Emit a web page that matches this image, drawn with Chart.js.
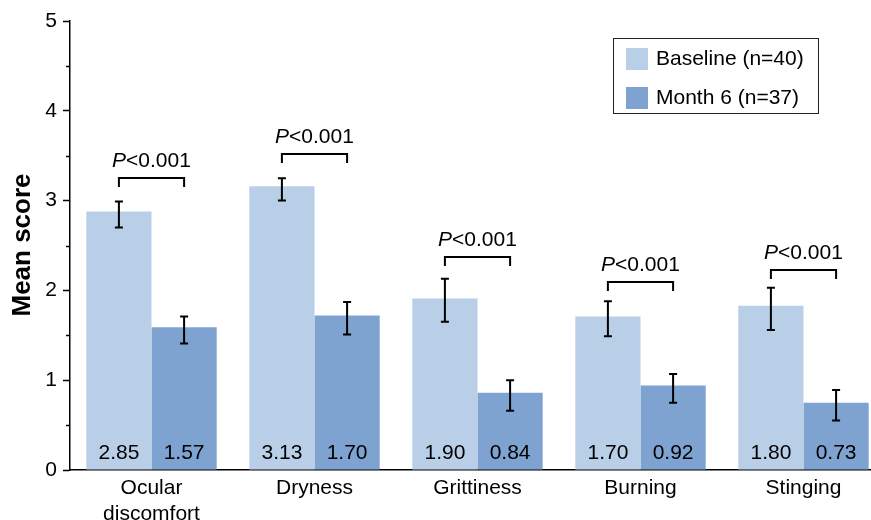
<!DOCTYPE html>
<html>
<head>
<meta charset="utf-8">
<script src="https://cdn.jsdelivr.net/npm/chart.js@4.4.1/dist/chart.umd.min.js"></script>
<style>
  html, body { margin: 0; padding: 0; background: #fff; overflow: hidden; }
  #wrap { width: 885px; height: 520px; }
</style>
</head>
<body>
<div id="wrap"><canvas id="chart" width="885" height="520"></canvas></div>
<script>
const FONT = "'Liberation Sans', Arial, sans-serif";

const categories = [['Ocular', 'discomfort'], 'Dryness', 'Grittiness', 'Burning', 'Stinging'];
const seriesNames = ['Baseline (n=40)', 'Month 6 (n=37)'];

// bar heights as drawn, and the printed means
const baselineMeans = [2.88, 3.16, 1.91, 1.71, 1.83];
const month6Means = [1.59, 1.72, 0.86, 0.94, 0.75];
const baselineLabels = ['2.85', '3.13', '1.90', '1.70', '1.80'];
const month6Labels = ['1.57', '1.70', '0.84', '0.92', '0.73'];

// error bar ends
const baselineErrLow = [2.70, 3.00, 1.65, 1.49, 1.56];
const baselineErrHigh = [2.99, 3.25, 2.13, 1.88, 2.03];
const month6ErrLow = [1.41, 1.51, 0.66, 0.75, 0.55];
const month6ErrHigh = [1.71, 1.87, 1.00, 1.07, 0.89];

// significance brackets
const bracketLevels = [3.25, 3.52, 2.37, 2.09, 2.23];
const pValues = ['<0.001', '<0.001', '<0.001', '<0.001', '<0.001'];

const yTicks = [0, 1, 2, 3, 4, 5];
const yMinorTicks = [0.5, 1.5, 2.5, 3.5, 4.5];

const colors = ['#B9CFE8', '#7EA3D1'];

const overlay = {
  id: 'overlay',
  afterDatasetsDraw(chart) {
    const ctx = chart.ctx;
    const y = chart.scales.y;
    const area = chart.chartArea;
    const m0 = chart.getDatasetMeta(0).data;
    const m1 = chart.getDatasetMeta(1).data;
    ctx.save();

    // minor ticks
    ctx.strokeStyle = '#000';
    ctx.lineWidth = 1.5;
    yMinorTicks.forEach((v) => {
      const py = Math.round(y.getPixelForValue(v)) + 0.5;
      ctx.beginPath();
      ctx.moveTo(area.left - 4, py);
      ctx.lineTo(area.left, py);
      ctx.stroke();
    });

    // error bars
    ctx.lineWidth = 2;
    const errBar = (x, lo, hi) => {
      const p1 = y.getPixelForValue(lo);
      const p2 = y.getPixelForValue(hi);
      ctx.beginPath();
      ctx.moveTo(x, p1); ctx.lineTo(x, p2);
      ctx.moveTo(x - 4, p1); ctx.lineTo(x + 4, p1);
      ctx.moveTo(x - 4, p2); ctx.lineTo(x + 4, p2);
      ctx.stroke();
    };
    categories.forEach((c, i) => {
      errBar(m0[i].x, baselineErrLow[i], baselineErrHigh[i]);
      errBar(m1[i].x, month6ErrLow[i], month6ErrHigh[i]);
    });

    // value labels inside bars
    ctx.fillStyle = '#000';
    ctx.font = `21px ${FONT}`;
    ctx.textAlign = 'center';
    ctx.textBaseline = 'middle';
    categories.forEach((c, i) => {
      ctx.fillText(baselineLabels[i], m0[i].x, 453);
      ctx.fillText(month6Labels[i], m1[i].x, 453);
    });

    // brackets with P values
    ctx.lineWidth = 2;
    categories.forEach((c, i) => {
      const by = Math.round(y.getPixelForValue(bracketLevels[i]));
      const x1 = m0[i].x, x2 = m1[i].x;
      ctx.beginPath();
      ctx.moveTo(x1, by + 9); ctx.lineTo(x1, by); ctx.lineTo(x2, by); ctx.lineTo(x2, by + 9);
      ctx.stroke();
      ctx.font = `italic 21px ${FONT}`;
      const wP = ctx.measureText('P').width;
      ctx.font = `21px ${FONT}`;
      const wRest = ctx.measureText(pValues[i]).width;
      const start = (x1 + x2) / 2 - (wP + wRest) / 2;
      ctx.textAlign = 'left';
      ctx.textBaseline = 'alphabetic';
      ctx.font = `italic 21px ${FONT}`;
      ctx.fillText('P', start, by - 11);
      ctx.font = `21px ${FONT}`;
      ctx.fillText(pValues[i], start + wP, by - 11);
    });

    // y title
    ctx.save();
    ctx.translate(23, 245);
    ctx.rotate(-Math.PI / 2);
    ctx.font = `bold 26px ${FONT}`;
    ctx.textAlign = 'center';
    ctx.textBaseline = 'middle';
    ctx.fillText('Mean score', 0, 0);
    ctx.restore();

    // legend
    ctx.lineWidth = 1;
    ctx.strokeStyle = '#222';
    ctx.strokeRect(613.5, 38.5, 205, 75);
    ctx.font = `21px ${FONT}`;
    ctx.textAlign = 'left';
    ctx.textBaseline = 'middle';
    [48, 87].forEach((ty, k) => {
      ctx.fillStyle = colors[k];
      ctx.fillRect(626, ty, 22, 22);
      ctx.fillStyle = '#000';
      ctx.fillText(seriesNames[k], 656, ty + 11);
    });

    ctx.restore();
  }
};

new Chart(document.getElementById('chart'), {
  type: 'bar',
  data: {
    labels: categories,
    datasets: [
      { label: seriesNames[0], data: baselineMeans, backgroundColor: colors[0] },
      { label: seriesNames[1], data: month6Means, backgroundColor: colors[1] },
    ],
  },
  options: {
    responsive: false,
    animation: false,
    devicePixelRatio: 1,
    layout: { padding: { top: 21, left: 0, right: 0, bottom: 0 } },
    datasets: { bar: { categoryPercentage: 0.8, barPercentage: 1.0, borderWidth: 0 } },
    plugins: { legend: { display: false }, tooltip: { enabled: false } },
    scales: {
      x: {
        grid: { display: false, drawTicks: false },
        border: { display: true, color: '#000', width: 1.5 },
        ticks: { color: '#000', font: { family: FONT, size: 21 }, padding: 6, maxRotation: 0 },
        afterFit: (s) => { s.height = 50; },
      },
      y: {
        min: 0,
        max: 5,
        afterBuildTicks: (s) => { s.ticks = yTicks.map((v) => ({ value: v })); },
        grid: { drawOnChartArea: false, tickLength: 7, tickColor: '#000', tickWidth: 1.5 },
        border: { display: true, color: '#000', width: 1.5 },
        ticks: { color: '#000', font: { family: FONT, size: 21 }, padding: 6 },
        afterFit: (s) => { s.width = 70; },
      },
    },
  },
  plugins: [overlay],
});
</script>
</body>
</html>
